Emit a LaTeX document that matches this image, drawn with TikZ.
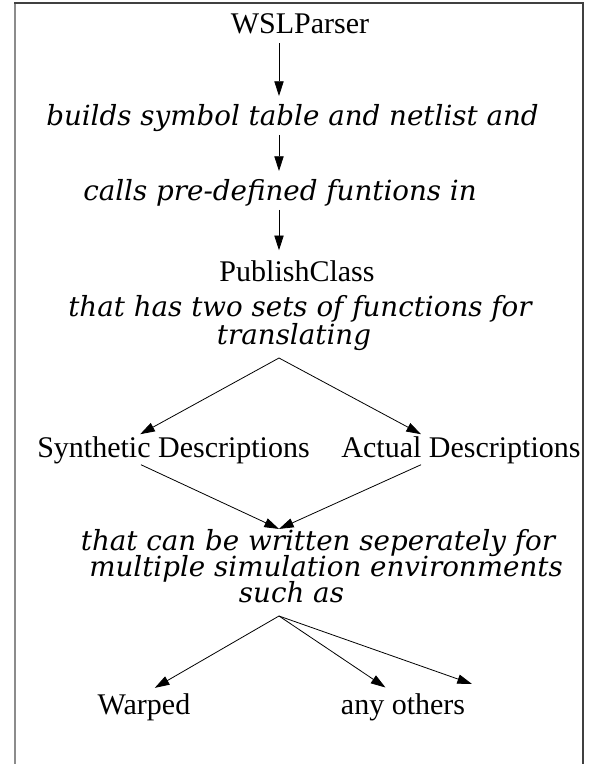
\documentclass[tikz,border=0pt]{standalone}
\usepackage{fontspec}
\setmainfont{Liberation Serif}
\newfontfamily\notefont{DejaVu Serif}
\usetikzlibrary{arrows.meta,positioning}

\begin{document}
\begin{tikzpicture}[
  x=0.75pt, y=-0.75pt,
  plain/.style={inner sep=0pt, anchor=base, font=\fontsize{22.5}{24}\selectfont, text height=16.9pt, text depth=5.6pt},
  note/.style={inner sep=0pt, anchor=base, font=\notefont\itshape\fontsize{20.8}{22}\selectfont, text height=15.6pt, text depth=5.2pt},
  arrow/.style={-{Triangle[length=11pt,width=7pt]}, line width=0.6pt},
  spinearrow/.style={arrow, shorten >=6pt, shorten <=2pt}
]
\useasboundingbox (0,0) rectangle (590,764);
% frame, open at the bottom
\draw[black!45, line width=2pt] (15,3) -- (15,764);
\draw[black!75, line width=1.5pt] (14,3) -- (583,3) -- (583,764);

\coordinate (spine) at (279,0);
\node[plain] (wsl) at (300,33) {WSLParser};
\node[note] (builds) at (292.5,125) {builds symbol table and netlist and};
\node[note] (calls) at (280,200) {calls pre-defined funtions in};
\node[plain] (pub) at (297,281) {PublishClass};
\draw[spinearrow] (wsl.south -| spine) -- (builds.north -| spine);
\draw[spinearrow] (builds.south -| spine) -- (calls.north -| spine);
\draw[spinearrow] (calls.south -| spine) -- (pub.north -| spine);

\node[note] (twosets) at (300,316) {that has two sets of functions for};
\node[note] (transl) at (294,344) {translating};
\coordinate (split) at (279,358);
\node[plain] (synth) at (173.5,457) {Synthetic Descriptions};
\node[plain] (actual) at (461,457) {Actual Descriptions};
\draw[arrow] (split) -- ([xshift=-25pt]synth.north);
\draw[arrow] (split) -- ([xshift=-30pt]actual.north);

\node[note] (writ) at (318,550) {that can be written seperately for};
\node[note, anchor=base west] (multi) at (89,576) {multiple simulation environments};
\node[note] (such) at (291.5,602) {such as};
\draw[arrow] ([xshift=-24.4pt]synth.south) -- (writ.north -| spine);
\draw[arrow] ([xshift=-30pt]actual.south) -- (writ.north -| spine);

\coordinate (fan) at (279,616);
\node[plain] (warped) at (144,714) {Warped};
\node[plain] (others) at (403,714) {any others};
\coordinate (more) at (472,684);
\draw[arrow, shorten >=5pt] (fan) -- ([xshift=3.75pt]warped.north);
\draw[arrow, shorten >=5pt] (fan) -- ([xshift=-9pt]others.north);
\draw[arrow] (fan) -- (more);
\end{tikzpicture}
\end{document}
